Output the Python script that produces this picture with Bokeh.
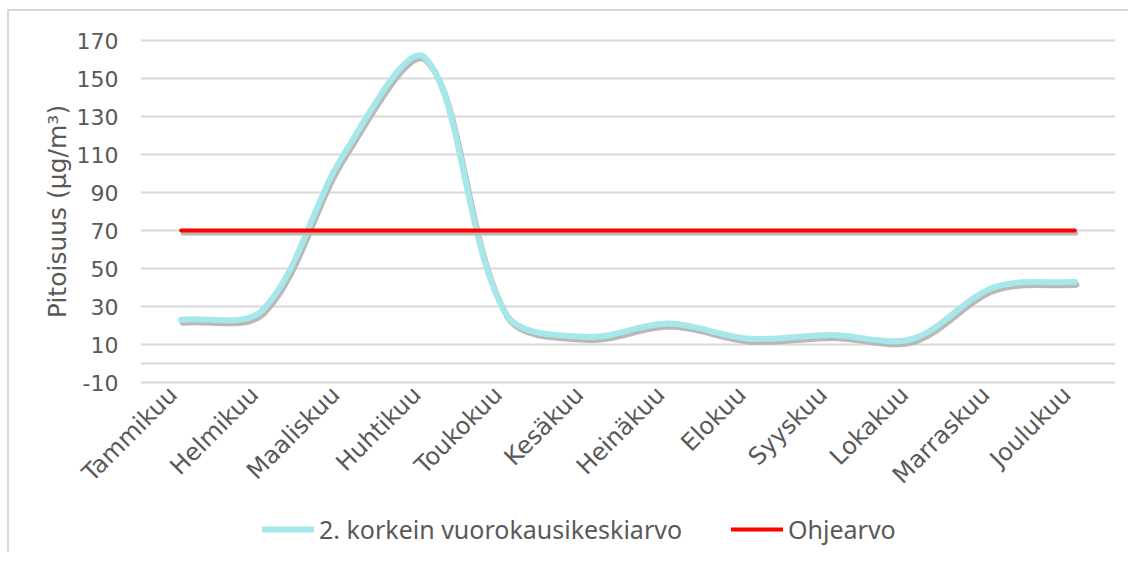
import math
from bokeh.plotting import figure
from bokeh.layouts import column
from bokeh.models import (Range1d, FixedTicker, Legend, LegendItem, Span,
                          ColumnDataSource, LinearAxis)
from bokeh.embed import file_html
from bokeh.resources import INLINE

# ---- data ----
months = ["Tammikuu", "Helmikuu", "Maaliskuu", "Huhtikuu", "Toukokuu", "Kesäkuu",
          "Heinäkuu", "Elokuu", "Syyskuu", "Lokakuu", "Marraskuu", "Joulukuu"]
second_highest = [23, 28, 110, 161, 26, 14, 21, 13, 15, 13, 40, 43]
guideline = [70, 70, 70, 70, 70, 70, 70, 70, 70, 70, 70, 70]
y_ticks = [-10, 10, 30, 50, 70, 90, 110, 130, 150, 170]
series_names = ["2. korkein vuorokausikeskiarvo", "Ohjearvo"]
y_title = "Pitoisuus (µg/m³)"
axis_crossing = 0

# ---- styles ----
CYAN = "#a6e8ea"
RED = "#ff0000"
GRID = "#d9d9d9"
TEXT = "#595959"
SHADOW = "#b8b8b8"

OFF_X, OFF_Y = 9, 11     # chart-area border offset on the page
TOTAL_W = 1128 - OFF_X
LEFT = 140 - OFF_X
FRAME_W = 975
INNER_H = 342           # pixel height of the -10..170 span
PAD_PX = 2              # keep the edge gridlines fully visible
TOP = 40 - PAD_PX - OFF_Y
BOTTOM = 126
y_span = y_ticks[-1] - y_ticks[0]
u_per_px = y_span / INNER_H
pad = PAD_PX * u_per_px
FRAME_H = INNER_H + 2 * PAD_PX
px_x = FRAME_W / len(months)
px_y = INNER_H / y_span

idx = list(range(len(months)))


def smooth_segments(xs, ys):
    """Bezier control points of a spreadsheet-like smoothed line
    (chord-length weighted Catmull-Rom, computed in screen space)."""
    n = len(xs)
    P = [(x * px_x, y * px_y) for x, y in zip(xs, ys)]

    def dist(a, b):
        return math.hypot(P[a][0] - P[b][0], P[a][1] - P[b][1])

    d = dict(x0=[], y0=[], x1=[], y1=[], cx0=[], cy0=[], cx1=[], cy1=[])
    for i in range(n - 1):
        a = max(i - 1, 0)
        b = min(i + 2, n - 1)
        d01, d12, d23 = dist(a, i), dist(i, i + 1), dist(i + 1, b)
        f1 = d12 / (3.0 * (d01 + d12))
        f2 = d12 / (3.0 * (d12 + d23))
        c1 = (P[i][0] + (P[i + 1][0] - P[a][0]) * f1, P[i][1] + (P[i + 1][1] - P[a][1]) * f1)
        c2 = (P[i + 1][0] - (P[b][0] - P[i][0]) * f2, P[i + 1][1] - (P[b][1] - P[i][1]) * f2)
        d["x0"].append(xs[i]); d["y0"].append(ys[i])
        d["x1"].append(xs[i + 1]); d["y1"].append(ys[i + 1])
        d["cx0"].append(c1[0] / px_x); d["cy0"].append(c1[1] / px_y)
        d["cx1"].append(c2[0] / px_x); d["cy1"].append(c2[1] / px_y)
    return ColumnDataSource(d)


p = figure(frame_width=FRAME_W, frame_height=FRAME_H,
           x_range=Range1d(-0.5, len(months) - 0.5),
           y_range=Range1d(y_ticks[0] - pad, y_ticks[-1] + pad),
           x_axis_location=None,
           output_backend="svg", toolbar_location=None,
           min_border_left=LEFT, min_border_right=TOTAL_W - LEFT - FRAME_W,
           min_border_top=TOP, min_border_bottom=BOTTOM)
p.outline_line_color = None
p.background_fill_color = "white"
p.border_fill_color = "white"

# shadow ranges: same scale, shifted a few pixels down/right
dy = 3 * u_per_px
dx = 1.5 / px_x
lx = 8 / px_x  # label anchor nudge (pixels -> units)
p.extra_y_ranges = {"shadow": Range1d(y_ticks[0] - pad + dy, y_ticks[-1] + pad + dy)}
p.extra_x_ranges = {"shadow": Range1d(-0.5 - dx, len(months) - 0.5 - dx),
                    "labels": Range1d(-0.5 + lx, len(months) - 0.5 + lx)}

# y axis
p.yaxis.ticker = FixedTicker(ticks=y_ticks)
p.yaxis.major_label_overrides = {t: str(t) for t in y_ticks}
p.yaxis.axis_line_color = None
p.yaxis.major_tick_line_color = None
p.yaxis.minor_tick_line_color = None
p.yaxis.major_label_text_font = "DejaVu Sans"
p.yaxis.major_label_text_font_size = "22px"
p.yaxis.major_label_text_color = TEXT
p.yaxis.major_label_standoff = 16
p.yaxis.axis_label = y_title
p.yaxis.axis_label_text_font = "DejaVu Sans"
p.yaxis.axis_label_text_font_size = "25px"
p.yaxis.axis_label_text_font_style = "normal"
p.yaxis.axis_label_text_color = TEXT
p.yaxis.axis_label_standoff = 2

# x axis (category labels)
xaxis = LinearAxis(x_range_name="labels", ticker=FixedTicker(ticks=idx),
                   major_label_overrides={i: m for i, m in zip(idx, months)},
                   major_label_orientation=math.pi / 4,
                   axis_line_color=None, major_tick_line_color=None,
                   minor_tick_line_color=None,
                   major_label_text_font="DejaVu Sans",
                   major_label_text_font_size="24px",
                   major_label_text_color=TEXT, major_label_standoff=0)
p.add_layout(xaxis, "below")

p.xgrid.visible = False
p.ygrid.grid_line_color = GRID
p.ygrid.grid_line_width = 2

p.add_layout(Span(location=axis_crossing, dimension="width",
                  line_color=GRID, line_width=2))

# series 1: smoothed line with shadow
src1 = smooth_segments(idx, second_highest)
bez = dict(x0="x0", y0="y0", x1="x1", y1="y1", cx0="cx0", cy0="cy0", cx1="cx1", cy1="cy1")
p.bezier(source=src1, line_color=SHADOW, line_width=6, line_cap="round",
         y_range_name="shadow", x_range_name="shadow", **bez)
p.bezier(source=src1, line_color=CYAN, line_width=6, line_cap="round", **bez)

# series 2: guideline with shadow
p.line(idx, guideline, line_color=SHADOW, line_width=4, line_cap="round",
       y_range_name="shadow", x_range_name="shadow")
p.line(idx, guideline, line_color=RED, line_width=4, line_cap="round")

# ---- legend strip below the chart ----
LEG_H = 42
leg = figure(width=TOTAL_W, height=LEG_H, x_range=Range1d(0, 1), y_range=Range1d(0, 1),
             x_axis_type=None, y_axis_type=None, output_backend="svg",
             toolbar_location=None, min_border=0)
leg.outline_line_color = None
leg.background_fill_color = "white"
leg.border_fill_color = "white"
nan = float("nan")
k1 = leg.line(x=[nan], y=[nan], line_color=CYAN, line_width=6, line_cap="round")
k2 = leg.line(x=[nan], y=[nan], line_color=RED, line_width=4, line_cap="round")

legend = Legend(items=[LegendItem(label=series_names[0], renderers=[k1]),
                       LegendItem(label=series_names[1], renderers=[k2])],
                orientation="horizontal", location=(262 - OFF_X - LEFT, 6))
legend.label_text_font = "Noto Sans"
legend.label_text_font_size = "25px"
legend.label_text_color = TEXT
legend.glyph_width = 52
legend.glyph_height = 30
legend.label_height = 30
legend.label_standoff = 5
legend.spacing = 49
legend.border_line_color = None
legend.background_fill_alpha = 0
legend.padding = 0
legend.margin = 0
leg.add_layout(legend, "center")

layout = column(p, leg, spacing=0)
layout.styles = {"margin-left": f"{OFF_X - 2}px", "margin-top": f"{OFF_Y - 2}px",
                 "border-left": f"2px solid {GRID}", "border-top": f"2px solid {GRID}"}
open("out.html", "w").write(file_html(layout, INLINE))
